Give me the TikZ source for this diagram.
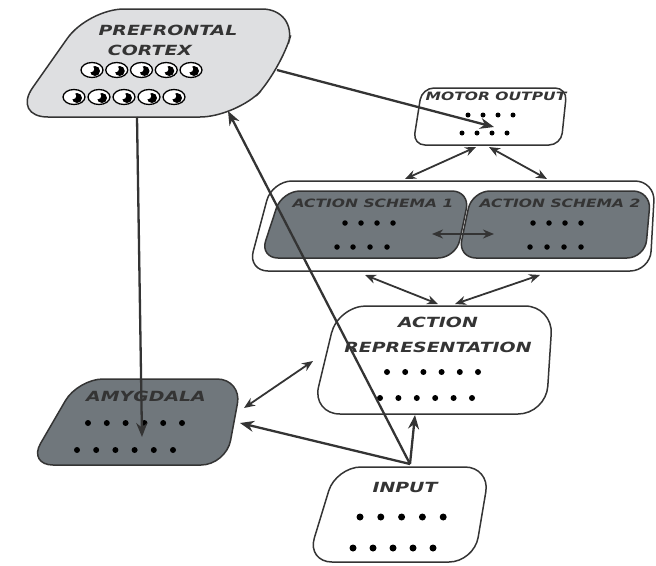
\documentclass[tikz,border=0pt]{standalone}
\usepackage{fontspec}
\setsansfont{DejaVu Sans}
\usepackage{graphicx}
\usetikzlibrary{arrows.meta}

\definecolor{darkarea}{RGB}{112,119,124}
\definecolor{lightarea}{RGB}{222,223,225}
\definecolor{inkgray}{RGB}{52,52,52}
\newcommand{\lbl}[1]{\scalebox{1.35}[1]{#1}}

\begin{document}
\begin{tikzpicture}[
			x=1pt, y=-1pt,
			every node/.style={inner sep=0pt, text=inkgray},
			area/.style={draw=inkgray, line width=1.5pt, rounded corners=22pt},
			title/.style={font=\fontsize{14}{14}\sffamily\bfseries\itshape},
			smalltitle/.style={font=\fontsize{11.5}{11.5}\sffamily\bfseries\itshape},
			to/.style={-{Stealth[length=14pt,width=11pt]}, line width=2.3pt, draw=inkgray},
			both/.style={{Stealth[length=11pt,width=9pt]}-{Stealth[length=11pt,width=9pt]}, line width=1.8pt, draw=inkgray},
			dot/.style={circle, fill=black, minimum size=6pt},
			neuron/.pic={
				\draw[line width=1.3pt, fill=white] (0,0) ellipse (11pt and 7.5pt);
				\fill (3,1) circle (5pt);
				\fill[white] (-1,-1) circle (3.2pt);
			}
			]
			
			\useasboundingbox (0,0) rectangle (656,565);
			
			% areas
			\draw[area, rounded corners=36pt, fill=lightarea] (88,9) -- (298,9) -- (281,70) -- (236,117) -- (12,117) -- cycle;
			\draw[area, rounded corners=12pt, fill=white] (422,88) -- (567,88) -- (561,145) -- (413,145) -- cycle;
			\draw[area, rounded corners=20pt, fill=white] (272,181) -- (655,181) -- (650,271) -- (248,271) -- cycle;
			\draw[area, rounded corners=18pt, fill=darkarea] (282,191) -- (470,191) -- (456,258) -- (260,258) -- cycle;
			\draw[area, rounded corners=18pt, fill=darkarea] (472,191) -- (651,191) -- (645,258) -- (458,258) -- cycle;
			\draw[area, rounded corners=28pt, fill=white] (338,306) -- (553,306) -- (546,414) -- (312,414) -- cycle;
			\draw[area, rounded corners=25pt, fill=darkarea] (78,379) -- (242,379) -- (226,465) -- (28,465) -- cycle;
			\draw[area, rounded corners=25pt, fill=white] (336,467) -- (490,467) -- (474,562) -- (307,562) -- cycle;
			
			% titles
			\node[title] (pfc) at (168,30) {\lbl{PREFRONTAL}};
			\node[title] (pfc2) at (150,50) {\lbl{CORTEX}};
			\node[smalltitle] (motor) at (496,96) {\lbl{MOTOR OUTPUT}};
			\node[smalltitle] (schema1) at (373,203) {\lbl{ACTION SCHEMA 1}};
			\node[smalltitle] (schema2) at (560,203) {\lbl{ACTION SCHEMA 2}};
			\node[title] (rep) at (438,322) {\lbl{ACTION}};
			\node[title] (rep2) at (438,347) {\lbl{REPRESENTATION}};
			\node[title] (amy) at (146,396) {\lbl{AMYGDALA}};
			\node[title] (input) at (405,487) {\lbl{INPUT}};
			
			% units
			\foreach \i in {0,...,4} {
				\pic at (92+24.75*\i,70) {neuron};
				\pic at (74+25*\i,97) {neuron};
			}
			\foreach \x in {468,483,498,513} \node[dot, minimum size=5pt] at (\x,115) {};
			\foreach \x in {462,477,492,507} \node[dot, minimum size=5pt] at (\x,133) {};
			\foreach \x in {345,361,377,393,533,549,565,581} \node[dot, minimum size=5.5pt] at (\x,223) {};
			\foreach \x in {337,353,370,387,530,547,564,581} \node[dot, minimum size=5.5pt] at (\x,247) {};
			\foreach \i in {0,...,5} {
				\node[dot] at (387+18.2*\i,372) {};
				\node[dot] at (380+18.4*\i,398) {};
				\node[dot] at (88+18.8*\i,423) {};
				\node[dot] at (77+19.2*\i,450) {};
			}
			\foreach \i in {0,...,4} {
				\node[dot, minimum size=7pt] at (360+20.8*\i,517) {};
				\node[dot, minimum size=7pt] at (353+20*\i,548) {};
			}
			
			% connector ends
			\coordinate (pfc-r) at (277,70);
			\coordinate (pfc-b) at (137,117);
			\coordinate (pfc-in) at (228,111);
			\coordinate (motor-in) at (494,127);
			\coordinate (motor-bl) at (476,147);
			\coordinate (motor-br) at (489,147);
			\coordinate (schema-tl) at (405,179);
			\coordinate (schema-tr) at (547,179);
			\coordinate (schema-bl) at (365,275);
			\coordinate (schema-br) at (540,275);
			\coordinate (schema1-r) at (432,234);
			\coordinate (schema2-l) at (494,234);
			\coordinate (rep-tl) at (438,304);
			\coordinate (rep-tr) at (455,304);
			\coordinate (rep-l) at (313,361);
			\coordinate (rep-b) at (415,415);
			\coordinate (amy-r) at (244,408);
			\coordinate (amy-in) at (240,423);
			\coordinate (amy-c) at (142,437);
			\coordinate (input-t) at (410,464);
			
			\draw[to] (pfc-r) -- (motor-in);
			\draw[both] (motor-bl) -- (schema-tl);
			\draw[both] (motor-br) -- (schema-tr);
			\draw[both] (schema1-r) -- (schema2-l);
			\draw[both] (schema-bl) -- (rep-tl);
			\draw[both] (schema-br) -- (rep-tr);
			\draw[both] (rep-l) -- (amy-r);
			\draw[to] (pfc-b) -- (amy-c);
			\draw[to] (input-t) -- (pfc-in);
			\draw[to] (input-t) -- (amy-in);
			\draw[to] (input-t) -- (rep-b);
			
			\end{tikzpicture}
\end{document}
